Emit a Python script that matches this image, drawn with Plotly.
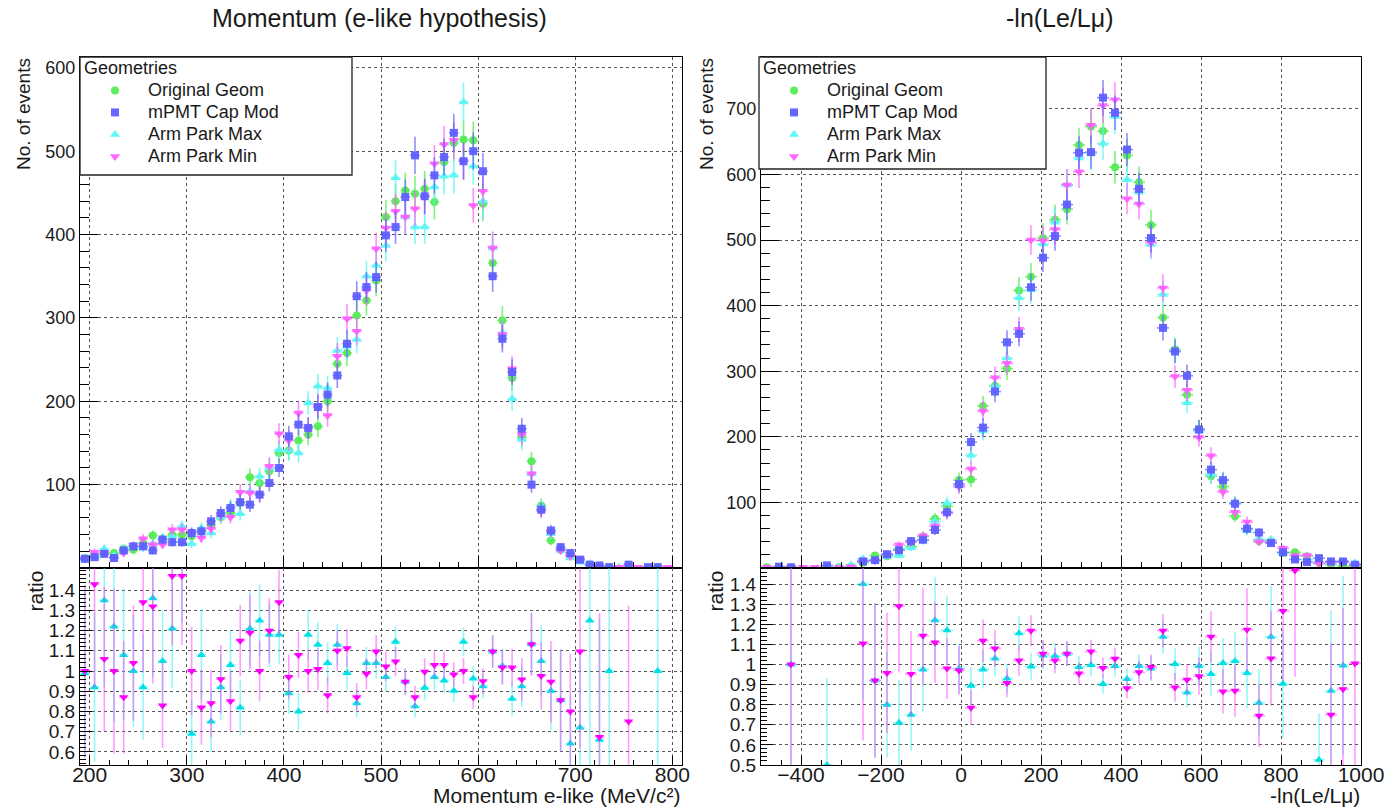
import numpy as np
import plotly.graph_objects as go

W, H = 1388, 809
FONT = "Liberation Sans, Arial, Helvetica, sans-serif"
INK = "#1a1a1a"

# ---------------- left panel: Momentum (e-like hypothesis), 10 MeV/c bins -------------
mom_lo, mom_hi, mom_w = 190, 810, 10
mom_orig = [12, 15, 17, 18, 23, 22, 30, 39, 35, 40, 40, 38, 45, 52, 61, 66, 78, 109, 102, 116,
            138, 141, 153, 160, 170, 200, 245, 258, 303, 321, 345, 421, 440, 453, 449, 455, 439, 487, 510, 514,
            513, 437, 366, 297, 228, 157, 128, 75, 33, 22, 15, 10, 4, 3, 1, 0, 4, 0, 0, 1, 0, 0]
mom_capmod = [11, 13, 17, 12, 21, 26, 26, 21, 34, 31, 31, 42, 44, 56, 66, 72, 79, 76, 88, 102,
              120, 158, 172, 168, 193, 208, 231, 269, 326, 337, 349, 399, 409, 445, 495, 446, 471, 493, 522, 488,
              500, 476, 350, 275, 235, 167, 100, 70, 45, 25, 18, 10, 4, 3, 1, 0, 4, 0, 1, 1, 0, 0]
mom_armmax = [11, 12, 23, 15, 23, 26, 24, 29, 36, 38, 50, 29, 48, 42, 61, 74, 65, 92, 110, 120,
              142, 141, 138, 198, 218, 216, 261, 266, 274, 350, 363, 387, 468, 421, 409, 409, 457, 470, 471, 559,
              482, 440, 384, 282, 203, 154, 113, 74, 41, 21, 12, 7, 5, 2, 1, 1, 0, 0, 0, 1, 0, 0]
mom_armmin = [11, 19, 18, 12, 18, 27, 35, 28, 28, 46, 46, 42, 36, 47, 63, 61, 91, 90, 88, 122,
              161, 153, 186, 168, 195, 183, 254, 299, 284, 333, 383, 408, 428, 421, 431, 445, 485, 508, 513, 488,
              435, 452, 384, 280, 239, 160, 113, 68, 43, 21, 14, 11, 0, 2, 0, 1, 3, 1, 0, 0, 1, 0]
mom_ratio_max = [0.99, 0.92, 1.35, 1.22, 1.08, 1.0, 0.92, 1.36, 1.05, 1.21, 1.61, 0.69, 1.08, 0.75, 0.92, 1.03,
                 0.82, 1.21, 1.25, 1.18, 1.18, 0.89, 0.80, 1.18, 1.13, 1.04, 1.13, 0.99, 0.84, 1.04, 1.04, 0.97,
                 1.145, 0.947, 0.826, 0.917, 0.97, 0.953, 0.903, 1.145, 0.963, 0.925, 1.097, 1.025, 0.863, 0.925,
                 1.133, 1.05, 0.903, 0.855, 0.642, 0.72, 1.25, 0.66, 1.0, None, None, None, None, 1.0, None, None]
mom_ratio_min = [1.0, 1.43, 1.06, 1.0, 0.87, 1.04, 1.34, 1.32, 0.83, 1.47, 1.47, 1.0, 0.82, 0.84, 0.96, 0.85,
                 1.15, 1.19, 1.0, 1.2, 1.34, 0.97, 1.08, 1.0, 1.01, 0.88, 1.10, 1.113, 0.87, 0.987, 1.097, 1.023,
                 1.047, 0.947, 0.87, 0.997, 1.03, 1.03, 0.983, 1.0, 0.87, 0.95, 1.097, 1.017, 1.017, 0.958,
                 1.133, 0.975, 0.947, 0.855, 0.8, 1.097, None, 0.673, None, None, 0.75, None, None, None, None, None]

# ---------------- right panel: -ln(Le/Lmu), 30-unit bins -------------
pid_lo, pid_hi, pid_w = -500, 1000, 30
pid_orig = [1, 1, 1, 0, 0, 1, 1, 2, 8, 19, 18, 29, 33, 48, 75, 94, 134, 135, 247, 278,
            304, 423, 444, 503, 531, 547, 645, 673, 666, 611, 629, 588, 523, 382, 333, 264, 212, 140, 124, 79,
            60, 41, 41, 23, 24, 18, 8, 5, 3, 3]
pid_capmod = [0, 2, 1, 0, 0, 4, 0, 0, 10, 12, 21, 27, 41, 43, 58, 85, 128, 192, 214, 269,
              344, 357, 428, 473, 506, 554, 633, 634, 717, 694, 638, 578, 503, 366, 330, 293, 211, 150, 134, 98,
              60, 54, 38, 24, 13, 9, 15, 10, 10, 5]
pid_armmax = [0, 0, 1, 0, 0, 2, 1, 5, 14, 11, 17, 19, 31, 42, 71, 99, 125, 172, 209, 277,
              320, 412, 424, 494, 527, 584, 625, 632, 647, 688, 592, 573, 493, 417, 331, 252, 209, 143, 135, 100,
              57, 44, 43, 22, 0, 13, 8, 9, 10, 8]
pid_armmin = [1, 0, 1, 1, 1, 0, 1, 2, 11, 11, 20, 35, 39, 49, 64, 83, 124, 151, 239, 290,
              312, 364, 500, 499, 516, 584, 604, 675, 705, 714, 563, 555, 496, 427, 292, 271, 199, 171, 116, 85,
              70, 40, 39, 30, 19, 19, 7, 8, 9, 5]
pid_ratio_max = [None, None, 1.0, None, None, 0.5, None, None, 1.4, 0.92, 0.8, 0.71, 0.75, 0.975, 1.22, 1.17,
                 0.98, 0.894, 0.975, 1.03, 0.93, 1.155, 0.99, 1.045, 1.042, 1.054, 0.987, 0.997, 0.903, 0.992,
                 0.928, 0.992, 0.98, 1.138, 1.003, 0.861, 0.992, 0.953, 1.008, 1.017, 0.958, 0.81, 1.138, 0.904,
                 None, None, 0.526, 0.869, 0.995, None]
pid_ratio_min = [None, None, 1.0, None, None, None, None, None, 1.104, 0.92, 0.958, 1.29, 0.953, 1.143, 1.109,
                 0.98, 0.97, 0.785, 1.118, 1.08, 0.908, 1.02, 1.168, 1.054, 1.02, 1.054, 0.955, 1.064, 0.983,
                 1.029, 0.882, 0.961, 0.987, 1.168, 0.886, 0.924, 0.941, 1.138, 0.866, 0.869, 1.173, 0.745, 1.03,
                 1.266, 1.467, None, None, 0.75, 0.877, 1.005]

mom_x = np.arange(mom_lo + mom_w / 2, mom_hi, mom_w)
pid_x = np.arange(pid_lo + pid_w / 2, pid_hi, pid_w)


def fx(p):
    return p / W


def fy(p):
    return 1 - p / H


fig = go.Figure()

STY = {
    "Original Geom": dict(sym="circle", size=8, col="rgba(85,235,85,0.95)", ecol="rgba(85,235,85,0.75)", rank=1),
    "mPMT Cap Mod": dict(sym="square", size=8, col="rgba(95,95,255,0.95)", ecol="rgba(95,95,255,0.7)", rank=2),
    "Arm Park Max": dict(sym="triangle-up", size=9, col="rgba(90,245,245,0.95)", ecol="rgba(90,245,245,0.75)", rank=3),
    "Arm Park Min": dict(sym="triangle-down", size=9, col="rgba(255,95,255,0.95)", ecol="rgba(255,95,255,0.7)", rank=4),
}
LEG_TXT = '<span style="font-size:18px">{}</span>'


def add_top(x, w, vals, name, xa, ya, leg):
    s = STY[name]
    v = np.array(vals, float)
    m = v > 0
    fig.add_trace(go.Scatter(
        x=x[m], y=v[m], mode="markers", name=LEG_TXT.format(name), legend=leg, legendrank=s["rank"],
        marker=dict(symbol=s["sym"], size=s["size"], color=s["col"], line=dict(width=0)),
        error_y=dict(type="data", array=np.sqrt(v[m]), color=s["ecol"], thickness=1.6, width=0),
        error_x=dict(type="data", array=np.full(int(m.sum()), w / 2), color=s["ecol"], thickness=1.6, width=0),
        xaxis=xa, yaxis=ya))


def add_ratio(x, w, r, num, den, sym, col, ecol, xa, ya):
    ra = np.array([np.nan if v is None else v for v in r], float)
    nu = np.array(num, float)
    de = np.array(den, float)
    m = (~np.isnan(ra)) & (nu > 0) & (de > 0)
    err = ra[m] * np.sqrt(1.0 / nu[m] + 1.0 / de[m])
    fig.add_trace(go.Scatter(
        x=x[m], y=ra[m], mode="markers", showlegend=False,
        marker=dict(symbol=sym, size=8, color=col, line=dict(width=0)),
        error_y=dict(type="data", array=err, color=ecol, thickness=1.6, width=0),
        error_x=dict(type="data", array=np.full(int(m.sum()), w / 2), color=ecol, thickness=1.6, width=0),
        xaxis=xa, yaxis=ya))


# draw order: green, cyan, magenta, blue on top
for name, vals in [("Original Geom", mom_orig), ("Arm Park Max", mom_armmax),
                   ("Arm Park Min", mom_armmin), ("mPMT Cap Mod", mom_capmod)]:
    add_top(mom_x, mom_w, vals, name, "x", "y", "legend")
for name, vals in [("Original Geom", pid_orig), ("Arm Park Max", pid_armmax),
                   ("Arm Park Min", pid_armmin), ("mPMT Cap Mod", pid_capmod)]:
    add_top(pid_x, pid_w, vals, name, "x3", "y3", "legend2")

CY_M, CY_E = "rgb(0,225,230)", "rgba(60,240,240,0.55)"
MG_M, MG_E = "rgb(250,0,250)", "rgba(255,60,255,0.5)"
add_ratio(mom_x, mom_w, mom_ratio_max, mom_armmax, mom_capmod, "triangle-up", CY_M, CY_E, "x2", "y2")
add_ratio(mom_x, mom_w, mom_ratio_min, mom_armmin, mom_capmod, "triangle-down", MG_M, MG_E, "x2", "y2")
add_ratio(pid_x, pid_w, pid_ratio_max, pid_armmax, pid_capmod, "triangle-up", CY_M, CY_E, "x4", "y4")
add_ratio(pid_x, pid_w, pid_ratio_min, pid_armmin, pid_capmod, "triangle-down", MG_M, MG_E, "x4", "y4")

GRID = dict(showgrid=True, griddash="dot", gridcolor="#555555", gridwidth=1, zeroline=False,
            showline=True, linecolor="black", linewidth=1.2, mirror=True, ticks="inside",
            tickcolor="black", tickwidth=1.2, automargin=False)
TF = lambda s: dict(family=FONT, size=s, color=INK)


def minor(len_, dt):
    return dict(ticks="inside", ticklen=len_, tickmode="linear", tick0=0, dtick=dt,
                tickcolor="black", showgrid=False)


LX = [fx(80), fx(682)]
RX = [fx(761), fx(1361)]
TOPY = [fy(568), fy(57)]
RATY = [fy(765), fy(568)]

mom_ticks = [200, 300, 400, 500, 600, 700, 800]
pid_ticks = [-400, -200, 0, 200, 400, 600, 800, 1000]

fig.update_layout(
    width=W, height=H, autosize=False, margin=dict(l=0, r=0, t=0, b=0, autoexpand=False),
    paper_bgcolor="white", plot_bgcolor="white", font=dict(family=FONT, color=INK),
    xaxis=dict(domain=LX, range=[mom_lo, mom_hi], anchor="y", tickvals=mom_ticks, showticklabels=False,
               ticklen=12, minor=minor(6, 20), **GRID),
    yaxis=dict(domain=TOPY, range=[0, 613], anchor="x", tickvals=[100, 200, 300, 400, 500, 600],
               tickfont=TF(18), ticklen=18, minor=minor(9, 20), **GRID),
    xaxis2=dict(domain=LX, range=[mom_lo, mom_hi], anchor="y2", tickvals=mom_ticks, tickfont=TF(21),
                ticklen=9, minor=minor(5, 20), ticklabelstandoff=-9, **GRID),
    yaxis2=dict(domain=RATY, range=[0.535, 1.51], anchor="x2",
                tickvals=[0.6, 0.7, 0.8, 0.9, 1.0, 1.1, 1.2, 1.3, 1.4], tickfont=TF(19),
                ticklen=12, minor=minor(6, 0.02), **GRID),
    xaxis3=dict(domain=RX, range=[pid_lo, pid_hi], anchor="y3", tickvals=pid_ticks, showticklabels=False,
                ticklen=12, minor=minor(6, 50), **GRID),
    yaxis3=dict(domain=TOPY, range=[0, 779], anchor="x3", tickvals=[100, 200, 300, 400, 500, 600, 700],
                tickfont=TF(18), ticklen=18, minor=minor(9, 20), **GRID),
    xaxis4=dict(domain=RX, range=[pid_lo, pid_hi], anchor="y4", tickvals=pid_ticks, tickfont=TF(21),
                ticklen=9, minor=minor(5, 50), ticklabelstandoff=-9, **GRID),
    yaxis4=dict(domain=RATY, range=[0.5, 1.48], anchor="x4",
                tickvals=[0.5, 0.6, 0.7, 0.8, 0.9, 1.0, 1.1, 1.2, 1.3, 1.4], tickfont=TF(19),
                ticklen=12, minor=minor(6, 0.02), **GRID),
)

leg_common = dict(bgcolor="rgba(0,0,0,0)", borderwidth=0, font=TF(14.6),
                  title=dict(text='<span style="font-size:18px">Geometries</span>', font=TF(16.5)),
                  xanchor="left", yanchor="top", itemwidth=56, tracegroupgap=0, orientation="v")
fig.update_layout(legend=dict(x=fx(82), y=fy(53), **leg_common),
                  legend2=dict(x=fx(761), y=fy(53), **leg_common))

# legend boxes
for x0, x1, y1 in [(80, 352, 175), (759, 1046, 169)]:
    fig.add_shape(type="rect", xref="paper", yref="paper", x0=fx(x0), x1=fx(x1), y0=fy(y1), y1=fy(57),
                  line=dict(color="#222", width=1.3), fillcolor="white", layer="above")

ann = [
    dict(text="Momentum (e-like hypothesis)", x=fx(380), y=fy(18), size=25, xanchor="center", yanchor="middle", angle=0),
    dict(text="-ln(Le/L\u03bc)", x=fx(1060), y=fy(18), size=25, xanchor="center", yanchor="middle", angle=0),
    dict(text="No. of events", x=fx(23), y=fy(56), size=19, xanchor="center", yanchor="top", angle=-90),
    dict(text="No. of events", x=fx(706), y=fy(56), size=19, xanchor="center", yanchor="top", angle=-90),
    dict(text="ratio", x=fx(35), y=fy(569), size=21, xanchor="center", yanchor="top", angle=-90),
    dict(text="ratio", x=fx(715), y=fy(569), size=21, xanchor="center", yanchor="top", angle=-90),
    dict(text="Momentum e-like (MeV/c\u00b2)", x=fx(682), y=fy(809), size=21, xanchor="right",
         yanchor="bottom", angle=0),
    dict(text="-ln(Le/L\u03bc)", x=fx(1362), y=fy(809), size=21, xanchor="right", yanchor="bottom", angle=0),
]
for a in ann:
    fig.add_annotation(text=a["text"], x=a["x"], y=a["y"], xref="paper", yref="paper", showarrow=False,
                       xanchor=a["xanchor"], yanchor=a["yanchor"], textangle=a["angle"],
                       font=TF(a["size"]))

fig.write_html("out.html")
